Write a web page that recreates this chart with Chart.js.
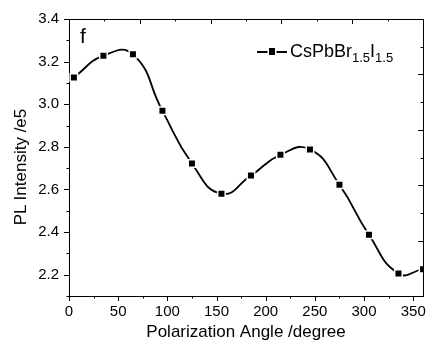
<!DOCTYPE html>
<html>
<head>
<meta charset="utf-8">
<script src="https://cdn.jsdelivr.net/npm/chart.js@4"></script>
<style>
  html, body { margin: 0; padding: 0; background: #fff; }
  #wrap { position: relative; width: 433px; height: 360px; font-family: "Liberation Sans", Arial, sans-serif; color: #000; }
  #panel { position: absolute; left: 80px; top: 25px; font-size: 21px; line-height: 21px; }
  #ytitle { position: absolute; left: -79px; top: 157px; width: 200px; height: 20px; line-height: 20px;
            font-size: 17px; text-align: center; transform: rotate(-90deg); white-space: nowrap; }
  #legend { position: absolute; left: 257px; top: 41px; height: 20px; line-height: 20px; font-size: 18px; white-space: nowrap; }
  #legend .sym { position: absolute; left: 0; top: 10px; width: 30px; height: 1.6px; background: #000; }
  #legend .sym::after { content: ''; position: absolute; left: 11.5px; top: -2.7px; width: 6.5px; height: 6.5px;
                        background: #000; box-shadow: 0 0 0 1.5px #fff; }
  #legend .txt { position: absolute; left: 33px; top: 0; }
  #legend sub { font-size: 13px; vertical-align: -5px; line-height: 0; }
</style>
</head>
<body>
<div id="wrap">
  <canvas id="plChart" width="433" height="360"></canvas>
  <div id="panel">f</div>
  <div id="ytitle">PL Intensity /e5</div>
  <div id="legend"><span class="sym"></span><span class="txt">CsPbBr<sub>1.5</sub>I<sub>1.5</sub></span></div>
</div>
<script>
// Data
const angles = [5, 35, 65, 95, 125, 155, 185, 215, 245, 275, 305, 335, 360];
const intensity = [3.126, 3.228, 3.234, 2.969, 2.722, 2.580, 2.665, 2.763, 2.788, 2.622, 2.387, 2.206, 2.226];

// Axis ranges and tick positions
const xRange = [0, 360];
const yRange = [2.1, 3.4];
const xTickValues = [0, 25, 50, 75, 100, 125, 150, 175, 200, 225, 250, 275, 300, 325, 350];
const xMajor = 50;
const yMinor = 0.1;

const ctx = document.getElementById('plChart').getContext('2d');
Chart.defaults.font.family = '"Liberation Sans", Arial, sans-serif';
Chart.defaults.color = '#000';

// Origin style tick marks: left/bottom outward, top/right inward
const tickMarks = {
    id: 'tickMarks',
    afterDraw(chart) {
        const c = chart.ctx;
        const a = chart.chartArea;
        const s = chart.scales;
        c.save();
        c.strokeStyle = '#000';
        c.lineWidth = 1;
        c.beginPath();
        s.x.ticks.forEach(t => {
            const px = Math.round(s.x.getPixelForValue(t.value)) + 0.5;
            const len = t.value % xMajor === 0 ? 5 : 2.5;
            c.moveTo(px, a.bottom); c.lineTo(px, a.bottom + len);
        });
        s.y.ticks.forEach(t => {
            const n = Math.round(t.value / yMinor);
            const py = Math.round(s.y.getPixelForValue(t.value)) + 0.5;
            const len = n % 2 === 0 ? 5 : 2.5;
            c.moveTo(a.left, py); c.lineTo(a.left - len, py);
        });
        s.x2.ticks.forEach(t => {
            const px = Math.round(s.x2.getPixelForValue(t.value)) + 0.5;
            const len = t.value % 2 === 0 ? 5 : 2.5;
            c.moveTo(px, a.top); c.lineTo(px, a.top + len);
        });
        s.y2.ticks.forEach(t => {
            const py = Math.round(s.y2.getPixelForValue(t.value)) + 0.5;
            const len = t.value % 2 === 0 ? 5 : 2.5;
            c.moveTo(a.right, py); c.lineTo(a.right - len, py);
        });
        c.stroke();
        c.restore();
    }
};

const plChart = new Chart(ctx, {
    type: 'line',
    data: {
        datasets: [{
            label: 'CsPbBr1.5I1.5',
            data: angles.map((a, i) => ({ x: a, y: intensity[i] })),
            borderColor: '#000',
            borderWidth: 1.8,
            tension: 0.5,
            pointStyle: 'rect',
            pointRadius: 5.3,
            pointBackgroundColor: '#000',
            pointBorderColor: '#fff',
            pointBorderWidth: 1.5
        }]
    },
    options: {
        responsive: false,
        devicePixelRatio: 1,
        animation: false,
        layout: { padding: { top: 16, right: 8, left: 0, bottom: 0 } },
        plugins: {
            legend: { display: false },
            tooltip: { enabled: false }
        },
        scales: {
            x: {
                type: 'linear',
                position: 'bottom',
                min: xRange[0],
                max: xRange[1],
                grid: { display: false, drawTicks: false },
                border: { display: true, color: '#000', width: 1 },
                afterBuildTicks: scale => { scale.ticks = xTickValues.map(v => ({ value: v })); },
                ticks: {
                    autoSkip: false,
                    maxRotation: 0,
                    padding: 7,
                    font: { size: 15 },
                    callback: v => (v % xMajor === 0 ? String(v) : '')
                },
                title: {
                    display: true,
                    text: 'Polarization Angle /degree',
                    font: { size: 17 },
                    padding: { top: 0, bottom: 17 }
                },
                afterFit: scale => { scale.height = 64; }
            },
            y: {
                type: 'linear',
                position: 'left',
                min: yRange[0],
                max: yRange[1],
                grid: { display: false, drawTicks: false },
                border: { display: true, color: '#000', width: 1 },
                ticks: {
                    stepSize: yMinor,
                    autoSkip: false,
                    padding: 10,
                    font: { size: 15 },
                    callback: v => (Math.round(v / yMinor) % 2 === 0 ? v.toFixed(1) : '')
                },
                afterFit: scale => { scale.width = 69; }
            },
            x2: {
                type: 'linear',
                position: 'top',
                min: 0,
                max: 10,
                grid: { display: false, drawTicks: false },
                border: { display: true, color: '#000', width: 1 },
                ticks: { display: false, stepSize: 1 },
                afterFit: scale => { scale.height = 0; }
            },
            y2: {
                type: 'linear',
                position: 'right',
                min: 0,
                max: 10,
                grid: { display: false, drawTicks: false },
                border: { display: true, color: '#000', width: 1 },
                ticks: { display: false, stepSize: 1 },
                afterFit: scale => { scale.width = 0; }
            }
        }
    },
    plugins: [tickMarks]
});
</script>
</body>
</html>
